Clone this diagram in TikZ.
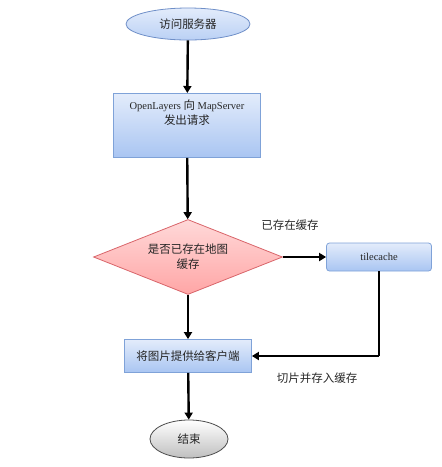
\documentclass[tikz,border=0pt]{standalone}
\usepackage{fontspec}
\setmainfont{Liberation Serif}
\newfontfamily\cjk{Noto Sans CJK SC}
\newcommand{\zh}{\cjk\fontsize{11.5}{18}\selectfont}
\usetikzlibrary{shapes.geometric,arrows.meta}
\definecolor{boxline}{HTML}{7FA2D8}
\definecolor{boxtop}{HTML}{E3ECFB}
\definecolor{boxbot}{HTML}{A9C5F2}
\definecolor{ovline}{HTML}{6F8FC8}
\definecolor{dialine}{HTML}{D9656A}
\begin{document}
\begin{tikzpicture}[x=1pt,y=-1pt,font=\fontsize{10.5}{15}\selectfont,
every node/.style = {align=center, inner sep=2pt, text=black!85},
procbox/.style = {draw=boxline, top color=boxtop, bottom color=boxbot, line width=0.8pt},
startoval/.style = {ellipse, draw=ovline, top color=boxtop, bottom color=boxbot!80, line width=0.8pt},
endoval/.style = {ellipse, draw=black!70, top color=white, bottom color=black!25, line width=0.8pt},
choice/.style = {diamond, draw=dialine, top color=red!15, bottom color=red!35, line width=0.8pt, aspect=2.5, inner sep=0pt},
flow/.style = {line width=2.4pt, -{Triangle[length=7pt,width=8pt]}},
tag/.style = {font=\zh}]
\useasboundingbox (0,0) rectangle (442,467);
\node[startoval, minimum width=124pt, minimum height=32pt](visit) at (188,24) {\zh 访问服务器};
\node[procbox, minimum width=147pt, minimum height=64pt, anchor=north](request) at (187,93) {OpenLayers {\zh 向} MapServer\\{\zh 发出请求}\\[12pt]};
\node[choice, minimum width=189pt, minimum height=75pt](cached) at (188,257) {\zh 是否已存在地图\\\zh 缓存};
\node[procbox, rounded corners=3pt, minimum width=105pt, minimum height=28pt](tilecache) at (379,257) {tilecache};
\node[procbox, minimum width=127pt, minimum height=33pt](serve) at (188,356) {\zh 将图片提供给客户端};
\node[endoval, minimum width=78pt, minimum height=38pt](finish) at (189,439) {\zh 结束};
\coordinate (turn) at (tilecache.south |- serve.east);
\draw[flow] (visit) -- (request);
\draw[flow] (request) -- (cached);
\draw[flow] (cached) -- (tilecache);
\draw[flow] (cached) -- (serve);
\draw[flow, -] (tilecache.south) -- (turn);
\draw[flow] (turn) -- (serve.east);
\draw[flow] (serve) -- (finish);
\node[tag](hit) at (290,225) {已存在缓存};
\node[tag](miss) at (317,378) {切片并存入缓存};
\end{tikzpicture}
\end{document}
